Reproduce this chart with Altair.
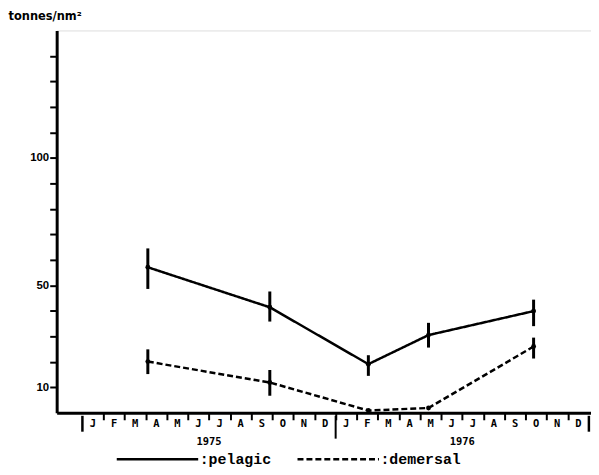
import altair as alt
import pandas as pd

# sampling times (month index, 0 = start of Jan 1975)
months = [3.1, 8.88, 13.55, 16.4, 21.38]
pelagic = [57.1, 41.4, 19.1, 30.5, 39.9]
pel_lo = [48.6, 35.8, 14.5, 25.6, 34.0]
pel_hi = [64.5, 47.6, 22.6, 35.3, 44.4]
demersal = [20.1, 11.9, 0.9, 1.9, 26.0]
dem_lo = [15.2, 6.7, None, None, 21.3]
dem_hi = [24.9, 16.8, None, None, 29.5]

month_letters = ["J", "F", "M", "A", "M", "J", "J", "A", "S", "O", "N", "D"]
years = ["1975", "1976"]
series_names = ["pelagic", "demersal"]
y_labels = [10, 50, 100]

rows = []
for i, m in enumerate(months):
    rows.append({"m": m, "series": "pelagic", "v": pelagic[i], "lo": pel_lo[i], "hi": pel_hi[i]})
for i, m in enumerate(months):
    rows.append({"m": m, "series": "demersal", "v": demersal[i], "lo": dem_lo[i], "hi": dem_hi[i]})
df = pd.DataFrame(rows)
err = df.dropna(subset=["lo", "hi"])

mdf = pd.DataFrame({"m": [k + 0.5 for k in range(24)], "t": month_letters * 2})
ydf = pd.DataFrame({"m": [6, 18], "t": years})
bars_out = pd.DataFrame({"m": [0, 24]})
bars_mid = pd.DataFrame({"m": [12]})

xs = alt.Scale(domain=[-1.22, 24.1], nice=False, zero=False)
ys = alt.Scale(domain=[0, 150], nice=False)

label_expr = "indexof([" + ",".join(str(v) for v in y_labels) + "], datum.value) >= 0 ? datum.label : ''"

x_axis = alt.Axis(values=list(range(1, 24)), labels=False, title=None, grid=False,
                  tickSize=7, tickWidth=2, domainWidth=3, domainColor="black",
                  tickColor="black")
y_axis = alt.Axis(values=list(range(10, 150, 10)), labelExpr=label_expr, grid=False,
                  labelOverlap=False,
                  tickSize=7, tickWidth=2, domainWidth=3, domainColor="black",
                  tickColor="black", labelFont="Liberation Sans", labelFontSize=11.5,
                  labelFontWeight="bold", labelColor="black", labelPadding=1,
                  title="tonnes/nm²", titleAngle=0, titleAlign="left",
                  titleBaseline="middle", titleX=-49, titleY=-14,
                  titleFont="DejaVu Sans", titleFontSize=11.5, titleFontWeight="bold",
                  titleColor="black")

lines = alt.Chart(df).mark_line(color="black", strokeWidth=2.5).encode(
    x=alt.X("m:Q", scale=xs, axis=x_axis),
    y=alt.Y("v:Q", scale=ys, axis=y_axis),
    strokeDash=alt.StrokeDash(
        "series:N",
        scale=alt.Scale(domain=series_names, range=[[1, 0], [6, 3]]),
        legend=alt.Legend(
            orient="none", legendX=59, legendY=389, direction="horizontal", title=None,
            symbolType="stroke", symbolSize=6724, symbolStrokeWidth=2.3,
            symbolStrokeColor="black", labelExpr="':' + datum.label",
            labelFont="Liberation Mono", labelFontSize=15, labelFontWeight="bold",
            labelColor="black", labelOffset=0, columnPadding=20, padding=0,
        ),
    ),
    detail="series:N",
)

points = alt.Chart(df).mark_point(filled=True, color="black", size=24, opacity=1).encode(
    x=alt.X("m:Q", scale=xs, axis=x_axis), y=alt.Y("v:Q", scale=ys, axis=y_axis)
)

errbars = alt.Chart(err).mark_rule(color="black", strokeWidth=3).encode(
    x=alt.X("m:Q", scale=xs, axis=x_axis), y=alt.Y("lo:Q", scale=ys, axis=y_axis), y2="hi:Q"
)

mlabels = alt.Chart(mdf).mark_text(font="DejaVu Sans Mono", fontSize=10.5, fontWeight="bold",
                                   color="black", baseline="middle").encode(
    x=alt.X("m:Q", scale=xs, axis=x_axis), y=alt.value(396), text="t:N"
)

ylabels = alt.Chart(ydf).mark_text(font="DejaVu Sans Mono", fontSize=10.5, fontWeight="bold",
                                   color="black", baseline="middle").encode(
    x=alt.X("m:Q", scale=xs, axis=x_axis), y=alt.value(414), text="t:N"
)

bo = alt.Chart(bars_out).mark_rule(color="black", strokeWidth=2.5).encode(
    x=alt.X("m:Q", scale=xs, axis=x_axis), y=alt.value(388), y2=alt.value(404)
)
bm = alt.Chart(bars_mid).mark_rule(color="black", strokeWidth=2).encode(
    x=alt.X("m:Q", scale=xs, axis=x_axis), y=alt.value(388), y2=alt.value(411)
)

chart = alt.layer(lines, errbars, points, mlabels, ylabels, bo, bm).properties(
    width=538, height=385,
    autosize=alt.AutoSizeParams(type="none"),
    padding={"left": 49, "top": 21, "right": 0, "bottom": 61},
).configure_view(stroke=None).configure(background="white")

chart.save("out.html", embed_options={"renderer": "svg", "actions": False})
